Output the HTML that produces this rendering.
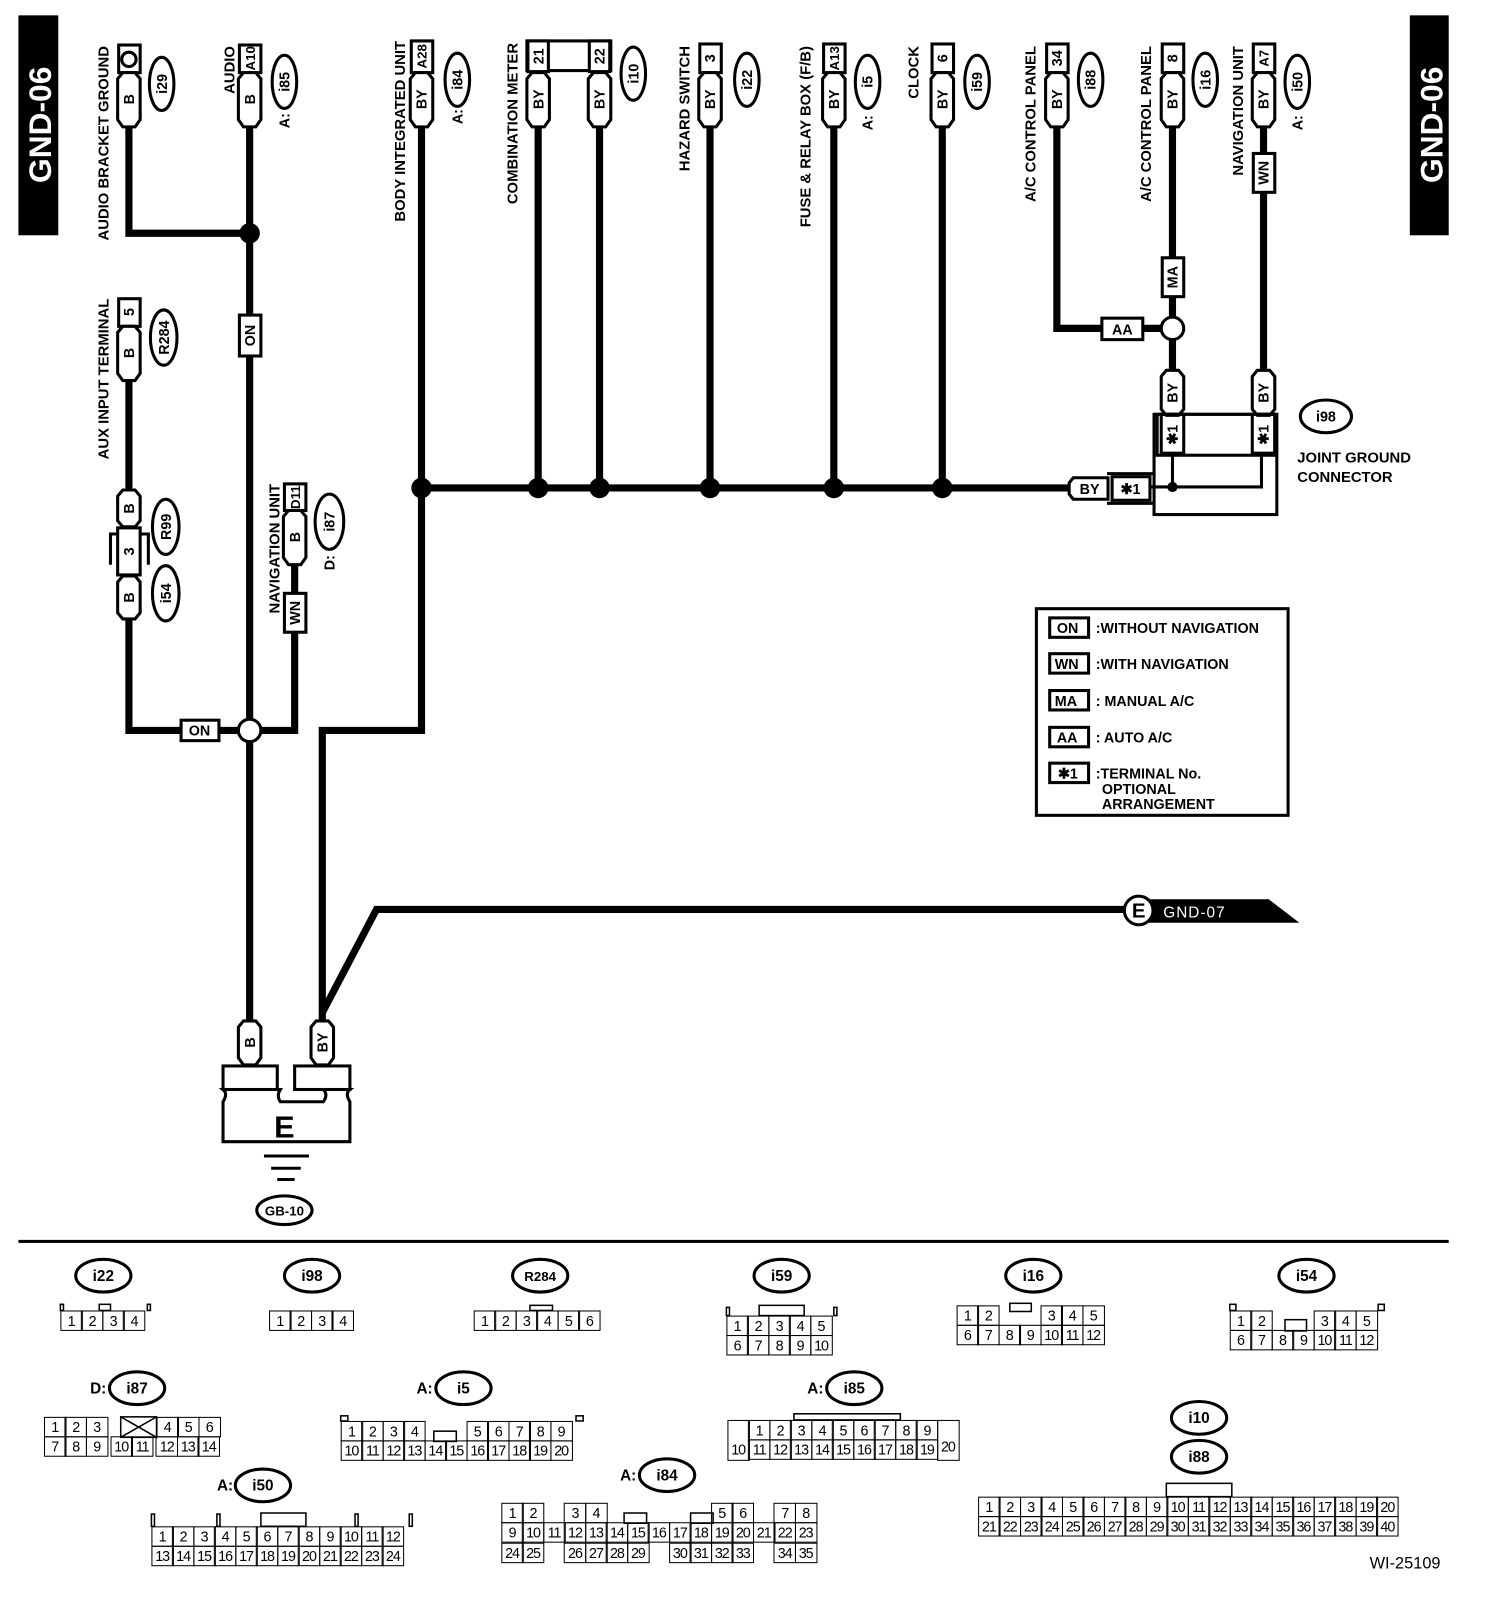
<!DOCTYPE html>
<html><head><meta charset="utf-8"><style>
html,body{margin:0;padding:0;background:#fff;}
#wrap{position:relative;width:1470px;height:1564px;transform:scale(1.0231,1.0230);transform-origin:0 0;font-family:"Liberation Sans",sans-serif;}
svg{position:absolute;left:0;top:0;}
.g{position:absolute;font-size:14px;line-height:19px;}
.r{display:flex;height:20px;}
.r i{font-style:normal;display:block;box-sizing:border-box;width:22px;height:20px;border:1.5px solid #000;margin-left:-1.5px;text-align:center;letter-spacing:-1px;}
.r i.e{border-color:transparent;}
.r + .r i{margin-top:-1.5px;}
</style></head><body><div id="wrap">
<svg width="1470" height="1564" viewBox="0 0 1470 1564" font-family="Liberation Sans, sans-serif" font-weight="bold">
<g fill="none" stroke="#000" stroke-width="7">
<polyline points="126,124 126,228 244,228"/>
<line x1="244" y1="124" x2="244" y2="998"/>
<line x1="126" y1="372" x2="126" y2="480"/>
<polyline points="126,605 126,714 244,714"/>
<polyline points="288,552 288,714 244,714"/>
<polyline points="412,124 412,714 315,714 315,998"/>
<line x1="412" y1="477" x2="1045" y2="477"/>
<line x1="526" y1="124" x2="526" y2="477"/><line x1="586" y1="124" x2="586" y2="477"/>
<line x1="694" y1="124" x2="694" y2="477"/><line x1="815" y1="124" x2="815" y2="477"/>
<line x1="921" y1="124" x2="921" y2="477"/>
<polyline points="1033,124 1033,321 1146,321"/>
<line x1="1146" y1="124" x2="1146" y2="362"/>
<line x1="1235" y1="124" x2="1235" y2="362"/>
<polyline points="315,990 368,889 1100,889"/>
</g>
<g fill="#000"><circle cx="244" cy="228" r="10"/><circle cx="412" cy="477" r="10"/><circle cx="526" cy="477" r="10"/><circle cx="586" cy="477" r="10"/><circle cx="694" cy="477" r="10"/><circle cx="815" cy="477" r="10"/><circle cx="921" cy="477" r="10"/></g>
<g fill="#fff" stroke="#000" stroke-width="3"><circle cx="244" cy="714" r="11"/><circle cx="1146" cy="321" r="11"/></g>
<rect x="18" y="15" width="39" height="215" fill="#000"/>
<rect x="1378" y="15" width="38" height="215" fill="#000"/>
<text transform="translate(50,122) rotate(-90)" fill="#fff" font-size="31" text-anchor="middle">GND-06</text>
<text transform="translate(1410,122) rotate(-90)" fill="#fff" font-size="31" text-anchor="middle">GND-06</text>
<rect x="18" y="1212" width="1398" height="3" fill="#000"/>
<g fill="#fff" stroke="#000" stroke-width="3">
<rect x="116" y="44" width="21" height="27"/>
<rect x="234" y="44" width="21" height="27"/>
<rect x="402" y="40" width="21" height="31"/>
<rect x="515" y="40" width="82" height="29"/>
<rect x="516" y="40" width="20" height="30"/><rect x="576" y="40" width="20" height="30"/>
<rect x="684" y="43" width="21" height="28"/>
<rect x="805" y="43" width="21" height="28"/>
<rect x="911" y="43" width="21" height="28"/>
<rect x="1023" y="43" width="21" height="28"/>
<rect x="1136" y="43" width="21" height="28"/>
<rect x="1225" y="43" width="21" height="28"/>
<rect x="116" y="292" width="21" height="27"/>
<rect x="278" y="473" width="21" height="26"/>
</g>
<circle cx="126" cy="58" r="7" fill="#fff" stroke="#000" stroke-width="3"/>
<g fill="#fff" stroke="#000" stroke-width="3">
<path d="M120,71h12l5,6v40l-5,7h-12l-5,-7v-40z"/>
<path d="M238,71h12l5,6v40l-5,7h-12l-5,-7v-40z"/>
<path d="M406,71h12l5,6v40l-5,7h-12l-5,-7v-40z"/>
<path d="M520,71h12l5,6v40l-5,7h-12l-5,-7v-40z"/>
<path d="M580,71h12l5,6v40l-5,7h-12l-5,-7v-40z"/>
<path d="M688,71h12l5,6v40l-5,7h-12l-5,-7v-40z"/>
<path d="M809,71h12l5,6v40l-5,7h-12l-5,-7v-40z"/>
<path d="M915,71h12l5,6v40l-5,7h-12l-5,-7v-40z"/>
<path d="M1027,71h12l5,6v40l-5,7h-12l-5,-7v-40z"/>
<path d="M1140,71h12l5,6v40l-5,7h-12l-5,-7v-40z"/>
<path d="M1229,71h12l5,6v40l-5,7h-12l-5,-7v-40z"/>
<path d="M120,319h12l5,6v40l-5,7h-12l-5,-7v-40z"/>
<path d="M120,479h12l5,6v24l-5,6h-12l-5,-6v-24z"/>
<path d="M120,563h12l5,6v30l-5,6h-12l-5,-6v-30z"/>
<path d="M282,499h12l5,6v40l-5,7h-12l-5,-7v-40z"/>
<path d="M1140,362h12l5,6v32l-5,6h-12l-5,-6v-32z"/>
<path d="M1229,362h12l5,6v32l-5,6h-12l-5,-6v-32z"/>
<path d="M238,998h12l5,6v30l-5,7h-12l-5,-7v-30z"/>
<path d="M309,998h12l5,6v30l-5,7h-12l-5,-7v-30z"/>
</g>
<path d="M108,552V522h37v30" fill="none" stroke="#000" stroke-width="3"/>
<rect x="115" y="516" width="22" height="46" fill="#fff" stroke="#000" stroke-width="3"/>
<g fill="#fff" stroke="#000" stroke-width="3">
<rect x="234" y="308" width="21" height="40"/>
<rect x="177" y="704" width="37" height="20"/>
<rect x="278" y="580" width="21" height="38"/>
<rect x="1136" y="252" width="21" height="38"/>
<rect x="1225" y="150" width="21" height="38"/>
<rect x="1077" y="311" width="40" height="21"/>
</g>
<g font-size="14" text-anchor="middle">
<text transform="translate(131,97) rotate(-90)">B</text>
<text transform="translate(249,97) rotate(-90)">B</text>
<text transform="translate(249,57) rotate(-90)" font-size="13">A10</text>
<text transform="translate(417,97) rotate(-90)">BY</text>
<text transform="translate(417,55) rotate(-90)" font-size="13">A28</text>
<text transform="translate(531,97) rotate(-90)">BY</text>
<text transform="translate(531,55) rotate(-90)">21</text>
<text transform="translate(591,97) rotate(-90)">BY</text>
<text transform="translate(591,55) rotate(-90)">22</text>
<text transform="translate(699,97) rotate(-90)">BY</text>
<text transform="translate(699,57) rotate(-90)">3</text>
<text transform="translate(820,97) rotate(-90)">BY</text>
<text transform="translate(820,57) rotate(-90)" font-size="13">A13</text>
<text transform="translate(926,97) rotate(-90)">BY</text>
<text transform="translate(926,57) rotate(-90)">6</text>
<text transform="translate(1038,97) rotate(-90)">BY</text>
<text transform="translate(1038,57) rotate(-90)">34</text>
<text transform="translate(1151,97) rotate(-90)">BY</text>
<text transform="translate(1151,57) rotate(-90)">8</text>
<text transform="translate(1240,97) rotate(-90)">BY</text>
<text transform="translate(1240,57) rotate(-90)" font-size="13">A7</text>
<text transform="translate(131,345) rotate(-90)">B</text>
<text transform="translate(131,305) rotate(-90)">5</text>
<text transform="translate(131,497) rotate(-90)">B</text>
<text transform="translate(131,539) rotate(-90)">3</text>
<text transform="translate(131,584) rotate(-90)">B</text>
<text transform="translate(293,525) rotate(-90)">B</text>
<text transform="translate(293,486) rotate(-90)" font-size="13">D11</text>
<text transform="translate(293,599) rotate(-90)">WN</text>
<text transform="translate(249,328) rotate(-90)">ON</text>
<text transform="translate(1151,271) rotate(-90)">MA</text>
<text transform="translate(1240,169) rotate(-90)">WN</text>
<text transform="translate(1151,384) rotate(-90)">BY</text>
<text transform="translate(1240,384) rotate(-90)">BY</text>
<text transform="translate(249,1019) rotate(-90)">B</text>
<text transform="translate(320,1019) rotate(-90)">BY</text>
<text x="195" y="719">ON</text>
<text x="1097" y="327">AA</text>
</g>
<g fill="#fff" stroke="#000" stroke-width="3">
<ellipse cx="158" cy="82" rx="12" ry="26"/><ellipse cx="278" cy="80" rx="12" ry="26"/>
<ellipse cx="447" cy="78" rx="12" ry="26"/><ellipse cx="619" cy="72" rx="12" ry="26"/>
<ellipse cx="730" cy="78" rx="12" ry="26"/><ellipse cx="848" cy="80" rx="12" ry="26"/>
<ellipse cx="955" cy="80" rx="12" ry="26"/><ellipse cx="1066" cy="78" rx="12" ry="26"/>
<ellipse cx="1178" cy="78" rx="12" ry="26"/><ellipse cx="1268" cy="80" rx="12" ry="26"/>
<ellipse cx="160" cy="330" rx="13" ry="27"/><ellipse cx="162" cy="515" rx="13" ry="27"/>
<ellipse cx="162" cy="580" rx="13" ry="27"/><ellipse cx="322" cy="510" rx="14" ry="27"/>
<ellipse cx="1296" cy="407" rx="25" ry="16"/>
<ellipse cx="278" cy="1183" rx="27" ry="14"/>
</g>
<g font-size="14" text-anchor="middle">
<text transform="translate(163,82) rotate(-90)">i29</text>
<text transform="translate(283,80) rotate(-90)">i85</text>
<text transform="translate(452,78) rotate(-90)">i84</text>
<text transform="translate(624,72) rotate(-90)">i10</text>
<text transform="translate(735,78) rotate(-90)">i22</text>
<text transform="translate(853,80) rotate(-90)">i5</text>
<text transform="translate(960,80) rotate(-90)">i59</text>
<text transform="translate(1071,78) rotate(-90)">i88</text>
<text transform="translate(1183,78) rotate(-90)">i16</text>
<text transform="translate(1273,80) rotate(-90)">i50</text>
<text transform="translate(165,330) rotate(-90)">R284</text>
<text transform="translate(167,515) rotate(-90)">R99</text>
<text transform="translate(167,580) rotate(-90)">i54</text>
<text transform="translate(327,510) rotate(-90)">i87</text>
<text x="1296" y="412">i98</text>
<text x="278" y="1188" font-size="13">GB-10</text>
<text transform="translate(283,118) rotate(-90)">A:</text>
<text transform="translate(452,114) rotate(-90)">A:</text>
<text transform="translate(853,120) rotate(-90)">A:</text>
<text transform="translate(1273,120) rotate(-90)">A:</text>
<text transform="translate(327,550) rotate(-90)">D:</text>
</g>
<g font-size="14.5" text-anchor="end">
<text transform="translate(106,45) rotate(-90)">AUDIO BRACKET GROUND</text>
<text transform="translate(229,45) rotate(-90)">AUDIO</text>
<text transform="translate(106,292) rotate(-90)">AUX INPUT TERMINAL</text>
<text transform="translate(273,473) rotate(-90)">NAVIGATION UNIT</text>
<text transform="translate(396,40) rotate(-90)">BODY INTEGRATED UNIT</text>
<text transform="translate(506,42) rotate(-90)">COMBINATION METER</text>
<text transform="translate(674,45) rotate(-90)">HAZARD SWITCH</text>
<text transform="translate(792,45) rotate(-90)">FUSE &amp; RELAY BOX (F/B)</text>
<text transform="translate(898,45) rotate(-90)">CLOCK</text>
<text transform="translate(1012,45) rotate(-90)">A/C CONTROL PANEL</text>
<text transform="translate(1125,45) rotate(-90)">A/C CONTROL PANEL</text>
<text transform="translate(1215,45) rotate(-90)">NAVIGATION UNIT</text>
</g>
<g fill="none" stroke="#000" stroke-width="3">
<rect x="1128" y="405" width="120" height="98"/>
<rect x="1131" y="405" width="115" height="40"/>
<rect x="1135" y="405" width="22" height="38"/>
<rect x="1224" y="405" width="22" height="38"/>
<polyline points="1146,445 1146,476"/>
<polyline points="1125,476 1233,476 1233,445"/>
<line x1="1082" y1="463" x2="1128" y2="463"/><line x1="1082" y1="492" x2="1128" y2="492"/>
</g>
<circle cx="1146" cy="476" r="5" fill="#000"/>
<path d="M1049,467h34v21h-34l-4,-5v-11z" fill="#fff" stroke="#000" stroke-width="3"/>
<rect x="1087" y="466" width="37" height="23" fill="#fff" stroke="#000" stroke-width="3"/>
<g font-size="14" text-anchor="middle">
<text x="1065" y="483">BY</text><text x="1105" y="483">✱1</text>
<text transform="translate(1151,425) rotate(-90)">✱1</text>
<text transform="translate(1240,425) rotate(-90)">✱1</text>
</g>
<text x="1268" y="452" font-size="14.5">JOINT GROUND</text>
<text x="1268" y="471" font-size="14.5">CONNECTOR</text>
<rect x="1013" y="595" width="246" height="202" fill="none" stroke="#000" stroke-width="3"/>
<g fill="#fff" stroke="#000" stroke-width="3">
<rect x="1026" y="604" width="38" height="19"/><rect x="1026" y="639" width="38" height="19"/>
<rect x="1026" y="675" width="38" height="19"/><rect x="1026" y="711" width="38" height="19"/>
<rect x="1026" y="746" width="38" height="19"/></g>
<g font-size="14"><text x="1033" y="619">ON</text><text x="1031" y="654">WN</text><text x="1031" y="690">MA</text><text x="1033" y="726">AA</text><text x="1034" y="761">✱1</text>
<text x="1071" y="619">:WITHOUT NAVIGATION</text><text x="1071" y="654">:WITH NAVIGATION</text><text x="1071" y="690">: MANUAL A/C</text><text x="1071" y="726">: AUTO A/C</text>
<text x="1071" y="761">:TERMINAL No.</text><text x="1077" y="776">OPTIONAL</text><text x="1077" y="791">ARRANGEMENT</text></g>
<path d="M1120,879H1240L1270,902H1120z" fill="#000"/>
<circle cx="1113" cy="890" r="14" fill="#fff" stroke="#000" stroke-width="3"/>
<text x="1113" y="897" font-size="20" text-anchor="middle">E</text>
<text x="1137" y="897" font-size="15" fill="#fff" font-weight="normal" letter-spacing="1">GND-07</text>
<g fill="#fff" stroke="#000" stroke-width="3">
<path d="M218,1065 q5,4 0,12 v39 h124 v-39 q-5,-8 0,-12 h-26 q5,5 0,12 h-42 q-4,-6 0,-12z"/>
<rect x="218" y="1042" width="53" height="23"/><rect x="288" y="1042" width="54" height="23"/>
</g>
<text x="278" y="1112" font-size="30" text-anchor="middle">E</text>
<g stroke="#000" stroke-width="3"><line x1="258" y1="1130" x2="302" y2="1130"/><line x1="265" y1="1142" x2="294" y2="1142"/><line x1="271" y1="1153" x2="288" y2="1153"/></g>
<g fill="#fff" stroke="#000" stroke-width="3">
<ellipse cx="101" cy="1247" rx="27" ry="16"/><ellipse cx="305" cy="1247" rx="27" ry="16"/>
<ellipse cx="528" cy="1247" rx="27" ry="16"/><ellipse cx="764" cy="1247" rx="27" ry="16"/>
<ellipse cx="1010" cy="1247" rx="27" ry="16"/><ellipse cx="1277" cy="1247" rx="27" ry="16"/>
<ellipse cx="134" cy="1357" rx="27" ry="16"/><ellipse cx="453" cy="1357" rx="27" ry="16"/>
<ellipse cx="835" cy="1357" rx="27" ry="16"/><ellipse cx="257" cy="1452" rx="27" ry="16"/>
<ellipse cx="652" cy="1442" rx="27" ry="16"/><ellipse cx="1172" cy="1386" rx="27" ry="16"/>
<ellipse cx="1172" cy="1424" rx="27" ry="16"/>
</g>
<g font-size="15" text-anchor="middle">
<text x="101" y="1252">i22</text><text x="305" y="1252">i98</text><text x="528" y="1252" font-size="13">R284</text>
<text x="764" y="1252">i59</text><text x="1010" y="1252">i16</text><text x="1277" y="1252">i54</text>
<text x="134" y="1362">i87</text><text x="453" y="1362">i5</text><text x="835" y="1362">i85</text>
<text x="257" y="1457">i50</text><text x="652" y="1447">i84</text><text x="1172" y="1391">i10</text><text x="1172" y="1429">i88</text>
<text x="96" y="1362">D:</text><text x="415" y="1362">A:</text><text x="797" y="1362">A:</text><text x="220" y="1457">A:</text><text x="614" y="1447">A:</text>
</g>
<g fill="none" stroke="#000" stroke-width="1.5">
<rect x="97" y="1275" width="11" height="6"/><rect x="59" y="1275" width="3" height="6"/><rect x="144" y="1275" width="3" height="6"/>
<rect x="518" y="1276" width="22" height="5"/>
<rect x="742" y="1276" width="44" height="10"/><rect x="710" y="1278" width="3" height="8"/><rect x="815" y="1278" width="3" height="8"/>
<rect x="987" y="1274" width="21" height="8"/>
<rect x="1256" y="1290" width="21" height="11"/><rect x="1202" y="1275" width="6" height="6"/><rect x="1347" y="1275" width="6" height="6"/>
<rect x="424" y="1399" width="22" height="10"/><rect x="333" y="1384" width="7" height="5"/><rect x="563" y="1384" width="7" height="5"/>
<rect x="776" y="1382" width="104" height="6"/>
<rect x="255" y="1479" width="44" height="13"/><rect x="148" y="1480" width="3" height="12"/><rect x="212" y="1480" width="3" height="12"/><rect x="347" y="1480" width="3" height="12"/><rect x="400" y="1480" width="3" height="12"/>
<rect x="610" y="1479" width="22" height="10"/><rect x="675" y="1479" width="22" height="10"/>
<rect x="1140" y="1450" width="64" height="13"/>
<rect x="118" y="1385" width="35" height="20"/>
<line x1="118" y1="1385" x2="153" y2="1405"/><line x1="153" y1="1385" x2="118" y2="1405"/>
</g>
<text x="1408" y="1533" font-size="16" text-anchor="end" font-weight="normal">WI-25109</text>
</svg>

<div class="g" style="left:60px;top:1281px"><div class="r"><i>1</i><i>2</i><i>3</i><i>4</i></div></div>
<div class="g" style="left:264px;top:1281px"><div class="r"><i>1</i><i>2</i><i>3</i><i>4</i></div></div>
<div class="g" style="left:464px;top:1281px"><div class="r"><i>1</i><i>2</i><i>3</i><i>4</i><i>5</i><i>6</i></div></div>
<div class="g" style="left:711px;top:1286px"><div class="r"><i>1</i><i>2</i><i>3</i><i>4</i><i>5</i></div><div class="r"><i>6</i><i>7</i><i>8</i><i>9</i><i>10</i></div></div>
<div class="g" style="left:936px;top:1276px"><div class="r"><i>1</i><i>2</i><i class="e"></i><i class="e"></i><i>3</i><i>4</i><i>5</i></div><div class="r"><i>6</i><i>7</i><i>8</i><i>9</i><i>10</i><i>11</i><i>12</i></div></div>
<div class="g" style="left:1203px;top:1281px"><div class="r"><i>1</i><i>2</i><i class="e"></i><i class="e"></i><i>3</i><i>4</i><i>5</i></div><div class="r"><i>6</i><i>7</i><i>8</i><i>9</i><i>10</i><i>11</i><i>12</i></div></div>
<div class="g" style="left:44px;top:1385px"><div class="r"><i>1</i><i>2</i><i>3</i><i class="e" style="width:17px"></i><i class="e"></i><i class="e" style="width:14px"></i><i>4</i><i>5</i><i>6</i></div><div class="r"><i>7</i><i>8</i><i>9</i><i class="e" style="width:5px"></i><i>10</i><i>11</i><i class="e" style="width:5px"></i><i>12</i><i>13</i><i>14</i></div></div>
<div class="g" style="left:334px;top:1389px"><div class="r"><i>1</i><i>2</i><i>3</i><i>4</i><i class="e"></i><i class="e"></i><i>5</i><i>6</i><i>7</i><i>8</i><i>9</i></div><div class="r"><i>10</i><i>11</i><i>12</i><i>13</i><i>14</i><i>15</i><i>16</i><i>17</i><i>18</i><i>19</i><i>20</i></div></div>
<div class="g" style="left:712px;top:1388px"><div class="r"><i class="e"></i><i>1</i><i>2</i><i>3</i><i>4</i><i>5</i><i>6</i><i>7</i><i>8</i><i>9</i></div><div class="r"><i style="margin-top:-20px;height:40px;line-height:56px">10</i><i>11</i><i>12</i><i>13</i><i>14</i><i>15</i><i>16</i><i>17</i><i>18</i><i>19</i><i style="margin-top:-20px;height:40px;line-height:50px">20</i></div></div>
<div class="g" style="left:149px;top:1492px"><div class="r"><i>1</i><i>2</i><i>3</i><i>4</i><i>5</i><i>6</i><i>7</i><i>8</i><i>9</i><i>10</i><i>11</i><i>12</i></div><div class="r"><i>13</i><i>14</i><i>15</i><i>16</i><i>17</i><i>18</i><i>19</i><i>20</i><i>21</i><i>22</i><i>23</i><i>24</i></div></div>
<div class="g" style="left:491px;top:1469px"><div class="r"><i>1</i><i>2</i><i class="e"></i><i>3</i><i>4</i><i class="e"></i><i class="e"></i><i class="e"></i><i class="e"></i><i class="e"></i><i>5</i><i>6</i><i class="e"></i><i>7</i><i>8</i></div><div class="r"><i>9</i><i>10</i><i>11</i><i>12</i><i>13</i><i>14</i><i>15</i><i>16</i><i>17</i><i>18</i><i>19</i><i>20</i><i>21</i><i>22</i><i>23</i></div><div class="r"><i>24</i><i>25</i><i class="e"></i><i>26</i><i>27</i><i>28</i><i>29</i><i class="e"></i><i>30</i><i>31</i><i>32</i><i>33</i><i class="e"></i><i>34</i><i>35</i></div></div>
<div class="g" style="left:957px;top:1463px"><div class="r"><i>1</i><i>2</i><i>3</i><i>4</i><i>5</i><i>6</i><i>7</i><i>8</i><i>9</i><i>10</i><i>11</i><i>12</i><i>13</i><i>14</i><i>15</i><i>16</i><i>17</i><i>18</i><i>19</i><i>20</i></div><div class="r"><i>21</i><i>22</i><i>23</i><i>24</i><i>25</i><i>26</i><i>27</i><i>28</i><i>29</i><i>30</i><i>31</i><i>32</i><i>33</i><i>34</i><i>35</i><i>36</i><i>37</i><i>38</i><i>39</i><i>40</i></div></div>
</div></body></html>
